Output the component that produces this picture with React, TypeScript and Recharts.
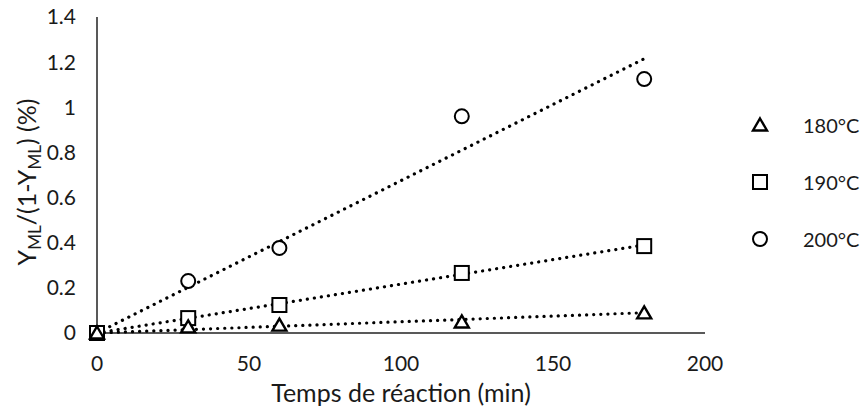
import React from 'react';
import { ScatterChart, Scatter, XAxis, YAxis } from 'recharts';

// reaction time (min)
const times = [0, 30, 60, 120, 180];
// Y_ML/(1-Y_ML) (%) per temperature
const y180 = [0, 0.027, 0.035, 0.049, 0.089];
const y190 = [0, 0.066, 0.124, 0.266, 0.385];
const y200 = [0, 0.23, 0.377, 0.96, 1.125];
// trend line end points (through origin)
const trendX = [0, 180];
const trend180 = [0, 0.09];
const trend190 = [0, 0.39];
const trend200 = [0, 1.215];

const xTicks = [0, 50, 100, 150, 200];
const yTicks = [0, 0.2, 0.4, 0.6, 0.8, 1, 1.2, 1.4];
const seriesNames = ['180°C', '190°C', '200°C'];

const FONT = 'Lato, "Open Sans", sans-serif';
const FS = 21;
const TITLE_FS = 25;
const INK = '#000';
const TXT = '#1a1a1a';

const toPts = (xs: number[], ys: number[]) => xs.map((x, i) => ({ x, y: ys[i] }));

const Triangle = ({ cx, cy }: any) => (
  <polygon
    points={`${cx},${cy - 6.5} ${cx + 7},${cy + 5.5} ${cx - 7},${cy + 5.5}`}
    fill="#fff" stroke={INK} strokeWidth={2.4} strokeLinejoin="miter"
  />
);
const Square = ({ cx, cy }: any) => (
  <rect x={cx - 7} y={cy - 7} width={14} height={14} fill="#fff" stroke={INK} strokeWidth={2} />
);
const Circle = ({ cx, cy }: any) => (
  <circle cx={cx} cy={cy} r={7} fill="#fff" stroke={INK} strokeWidth={2} />
);
const NoDot = () => <g />;

const markers = [Triangle, Square, Circle];

const trendLine = {
  stroke: INK,
  strokeWidth: 3.2,
  strokeDasharray: '0.1 7',
  strokeLinecap: 'round' as const,
};

const YLabel = () => {
  const bx = 36;
  const cy = 182;
  return (
    <text
      x={bx} y={cy} transform={`rotate(-90 ${bx} ${cy})`}
      textAnchor="middle"
      fontFamily={FONT} fontSize={TITLE_FS} fill={TXT}
    >
      Y<tspan fontSize={17} dy={5}>ML</tspan>
      <tspan dy={-5}>/(1-Y</tspan>
      <tspan fontSize={17} dy={5}>ML</tspan>
      <tspan dy={-5}>) (%)</tspan>
    </text>
  );
};

const XLabel = ({ viewBox }: any) => (
  <text
    x={viewBox.x + viewBox.width / 2} y={402}
    textAnchor="middle"
    fontFamily={FONT} fontSize={TITLE_FS} fill={TXT}
  >
    Temps de réaction (min)
  </text>
);

const LegendBox = () => (
  <svg width={119} height={160} style={{ position: 'absolute', left: 745, top: 105 }}>
    {seriesNames.map((name, i) => {
      const M = markers[i];
      const cy = 20 + i * 57;
      return (
        <g key={name}>
          <M cx={15} cy={cy} />
          <text x={58} y={cy} dominantBaseline="central" fontFamily={FONT} fontSize={20} fill={TXT}>
            {name}
          </text>
        </g>
      );
    })}
  </svg>
);

export default function App() {
  const tick = { fontFamily: FONT, fontSize: FS, fill: TXT };
  return (
    <div style={{ position: 'absolute', left: 0, top: 0, width: 864, height: 408, background: '#fff' }}>
      <ScatterChart width={864} height={408} margin={{ top: 17, right: 159, bottom: 0, left: 0 }}>
        <XAxis
          type="number" dataKey="x" domain={[0, 200]} ticks={xTicks} height={75}
          tickSize={0} tickMargin={23} tick={tick}
          axisLine={{ stroke: '#222', strokeWidth: 1.5 }}
          label={<XLabel />}
        />
        <YAxis
          type="number" dataKey="y" domain={[0, 1.4]} ticks={yTicks} width={97}
          tickSize={0} tickMargin={21} tick={tick}
          tickFormatter={(v: number) => String(Number(v.toFixed(1)))}
          axisLine={{ stroke: '#222', strokeWidth: 1.5 }}
          label={<YLabel />}
        />
        <Scatter data={toPts(trendX, trend180)} line={trendLine} shape={NoDot} isAnimationActive={false} legendType="none" />
        <Scatter data={toPts(trendX, trend190)} line={trendLine} shape={NoDot} isAnimationActive={false} legendType="none" />
        <Scatter data={toPts(trendX, trend200)} line={trendLine} shape={NoDot} isAnimationActive={false} legendType="none" />
        <Scatter name={seriesNames[2]} data={toPts(times, y200)} shape={Circle} isAnimationActive={false} />
        <Scatter name={seriesNames[1]} data={toPts(times, y190)} shape={Square} isAnimationActive={false} />
        <Scatter name={seriesNames[0]} data={toPts(times, y180)} shape={Triangle} isAnimationActive={false} />
      </ScatterChart>
      <LegendBox />
    </div>
  );
}
